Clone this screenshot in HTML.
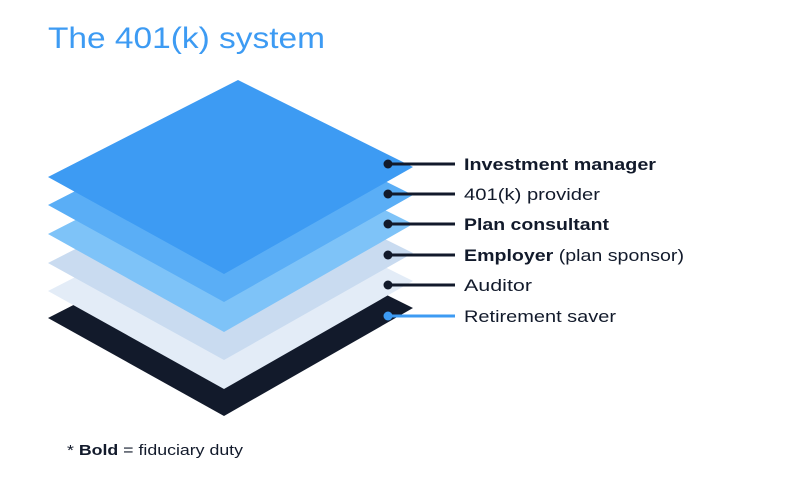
<!DOCTYPE html>
<html><head><meta charset="utf-8"><style>
html,body{margin:0;padding:0;background:#fff;width:800px;height:480px;overflow:hidden}
svg{display:block}
text{font-family:"Liberation Sans",sans-serif}
</style></head><body>
<svg width="800" height="480" viewBox="0 0 800 480" xmlns="http://www.w3.org/2000/svg">
<rect width="800" height="480" fill="#fff"/>
<text x="48" y="48" font-size="30" fill="#3d9bf3" textLength="277" lengthAdjust="spacingAndGlyphs">The 401(k) system</text>
<g>
<polygon points="238,221 48,318 224,416 413,308" fill="#121a2b"/>
<polygon points="238,194 48,291 224,389 413,281" fill="#e3ecf7"/>
<polygon points="238,166 48,263 224,360 413,253" fill="#c9dbf0"/>
<polygon points="238,137 48,234 224,332 413,224" fill="#7ec3f8"/>
<polygon points="238,108 48,205 224,302 413,195" fill="#5aaef6"/>
<polygon points="238,80 48,177 224,274 413,167" fill="#3d9bf3"/>
</g>
<g stroke="#121a2b" stroke-width="3">
<line x1="388" y1="164" x2="455" y2="164"/>
<line x1="388" y1="194" x2="455" y2="194"/>
<line x1="388" y1="224" x2="455" y2="224"/>
<line x1="388" y1="255" x2="455" y2="255"/>
<line x1="388" y1="285" x2="455" y2="285"/>
</g>
<line x1="388" y1="316" x2="455" y2="316" stroke="#3d9bf3" stroke-width="3"/>
<g fill="#121a2b">
<circle cx="388" cy="164" r="4.5"/><circle cx="388" cy="194" r="4.5"/><circle cx="388" cy="224" r="4.5"/>
<circle cx="388" cy="255" r="4.5"/><circle cx="388" cy="285" r="4.5"/>
</g>
<circle cx="388" cy="316" r="4.5" fill="#3d9bf3"/>
<g font-size="17" fill="#121a2b">
<text x="464" y="170" font-weight="bold" textLength="192" lengthAdjust="spacingAndGlyphs">Investment manager</text>
<text x="464" y="200" textLength="136" lengthAdjust="spacingAndGlyphs">401(k) provider</text>
<text x="464" y="230" font-weight="bold" textLength="145" lengthAdjust="spacingAndGlyphs">Plan consultant</text>
<text x="464" y="261" textLength="220" lengthAdjust="spacingAndGlyphs"><tspan font-weight="bold">Employer</tspan> (plan sponsor)</text>
<text x="464" y="291" textLength="68" lengthAdjust="spacingAndGlyphs">Auditor</text>
<text x="464" y="322" textLength="152" lengthAdjust="spacingAndGlyphs">Retirement saver</text>
</g>
<text x="67" y="455" font-size="15" fill="#121a2b" textLength="176" lengthAdjust="spacingAndGlyphs">* <tspan font-weight="bold">Bold</tspan> = fiduciary duty</text>
</svg>
</body></html>
